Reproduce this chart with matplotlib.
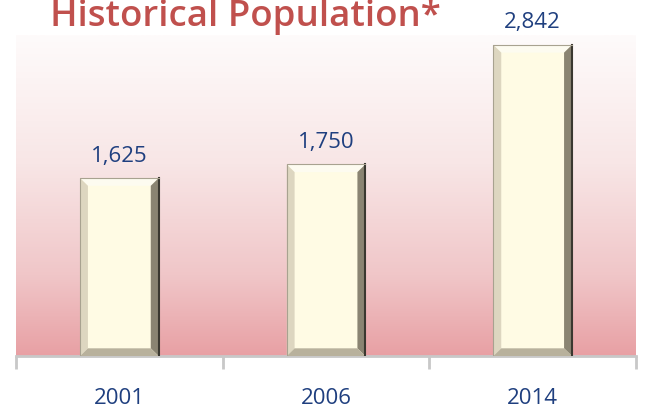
import matplotlib.pyplot as plt
import numpy as np
from matplotlib.colors import LinearSegmentedColormap

years = ['2001', '2006', '2014']
population = [1625, 1750, 2842]
title_text = 'Historical Population*'

plt.rcParams['font.family'] = ['Open Sans', 'DejaVu Sans']

fig = plt.figure(figsize=(6.46, 4.10), dpi=100)
ax = fig.add_axes([0.0248, 0.1293, 0.9597, 0.7829])

# pink background gradient (white at top, rose at the bottom)
bg = LinearSegmentedColormap.from_list(
    'bg', [(0.0, '#e8a0a4'), (0.25, '#f0c6c8'), (0.6, '#f8e6e6'), (1.0, '#fefbfb')])
grad = np.linspace(0, 1, 256).reshape(-1, 1)
ax.imshow(grad, cmap=bg, origin='lower', aspect='auto',
          extent=[0, 1, 0, 1], transform=ax.transAxes, zorder=0)

x = np.arange(len(years))
bw = 0.38
bars = ax.bar(x, population, width=bw, color='#fffbe4', zorder=2, linewidth=0)

# bevel edges around every bar
bx = 0.038   # bevel width in x units
by = 70      # bevel height in y units
for b in bars:
    x0, x1 = b.get_x(), b.get_x() + b.get_width()
    h = b.get_height()
    ax.fill([x0, x1, x1 - bx, x0 + bx], [h, h, h - by, h - by],
            color='#fdfbf0', zorder=3, lw=0)
    ax.fill([x0, x0 + bx, x0 + bx, x0], [h, h - by, by, 0],
            color='#ddd6c0', zorder=3, lw=0)
    ax.fill([x1, x1, x1 - bx, x1 - bx], [h, 0, by, h - by],
            color='#8a8472', zorder=3, lw=0)
    ax.fill([x0, x1, x1 - bx, x0 + bx], [0, 0, by, by],
            color='#b8b19c', zorder=3, lw=0)
    ax.plot([x1, x1], [0, h], color='#3a3830', lw=1.5, zorder=4)
    ax.plot([x0, x0, x1], [0, h, h], color='#a8a290', lw=0.8, zorder=4)
    ax.annotate(f'{h:,.0f}', (b.get_x() + b.get_width() / 2, h),
                xytext=(0, 9), textcoords='offset points',
                ha='center', va='bottom', fontsize=16, color='#1f3f7f')

ax.set_xlim(-0.5, len(years) - 0.5)
ax.set_ylim(0, 2933)
ax.set_yticks([])
ax.set_xticks(x)
ax.set_xticklabels(years, fontsize=16, color='#1f3f7f')
ax.tick_params(axis='x', which='major', length=0, pad=22)
ax.set_xticks(np.arange(-0.5, len(years)), minor=True)
ax.tick_params(axis='x', which='minor', length=9, width=2, color='#c8c8c8')

for s in ['top', 'right', 'left']:
    ax.spines[s].set_visible(False)
ax.spines['bottom'].set_color('#c8c8c8')
ax.spines['bottom'].set_linewidth(2)

title = fig.text(50 / 646, 1 - 26 / 410, title_text, fontsize=25, fontweight='semibold',
                 color='#c0504d', ha='left', va='baseline')
# stretch the title to the width it has in the original (about 390 px)
fig.canvas.draw()
w = title.get_window_extent().width
title.set_fontsize(25 * 390 / w)

fig.savefig('out.png', dpi=100)
